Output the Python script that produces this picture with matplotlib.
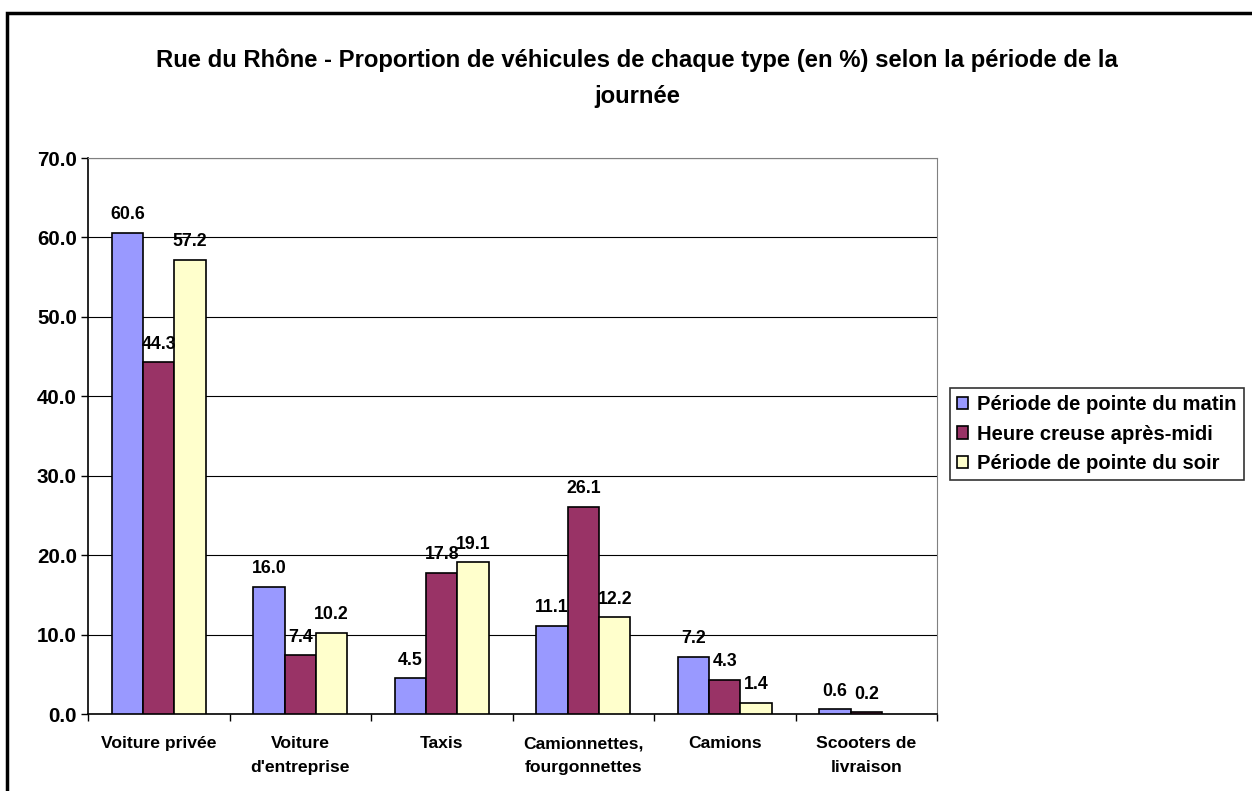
import numpy as np
import matplotlib
matplotlib.use('Agg')
import matplotlib.pyplot as plt
from matplotlib.patches import Rectangle

plt.rcParams['font.family'] = ['Liberation Sans', 'DejaVu Sans']
plt.rcParams['font.weight'] = 'bold'

categories = ['Voiture privée', "Voiture\nd'entreprise", 'Taxis',
              'Camionnettes,\nfourgonnettes', 'Camions', 'Scooters de\nlivraison']
series = ['Période de pointe du matin', 'Heure creuse après-midi', 'Période de pointe du soir']
matin = [60.6, 16.0, 4.5, 11.1, 7.2, 0.6]
creuse = [44.3, 7.4, 17.8, 26.1, 4.3, 0.2]
soir = [57.2, 10.2, 19.1, 12.2, 1.4, np.nan]
colors = ['#9999FF', '#993366', '#FFFFCC']

W, H = 1252, 791
fig = plt.figure(figsize=(W / 100, H / 100), dpi=100)
ax = fig.add_axes([88 / W, 1 - 714 / H, (937 - 88) / W, (714 - 158) / H])

x = np.arange(len(categories))
bw = 1 / 4.5  # excel gap width 150%
handles = []
for i, (vals, c) in enumerate(zip([matin, creuse, soir], colors)):
    pos = x + (i - 1) * bw
    b = ax.bar(pos, vals, bw, color=c, edgecolor='black', linewidth=1.2, zorder=3, label=series[i])
    handles.append(b)
    for p, v in zip(pos, vals):
        if not np.isnan(v):
            ax.text(p, v + 1.2, '%.1f' % v, ha='center', va='bottom', fontsize=12.8, fontweight='bold', zorder=4)

ax.set_xlim(-0.5, len(categories) - 0.5)
ax.set_ylim(0, 70)
ax.set_yticks(np.arange(0, 71, 10))
ax.set_yticklabels(['%.1f' % t for t in np.arange(0, 71, 10)], fontsize=14.8, fontweight='bold')
ax.yaxis.grid(True, color='black', linewidth=0.8, zorder=0)
ax.set_axisbelow(True)
ax.set_xticks(np.arange(-0.5, len(categories), 1))
ax.set_xticklabels([])
ax.set_xticks(x, minor=True)
ax.set_xticklabels(categories, minor=True, fontsize=12.6, fontweight='bold', linespacing=1.72)
ax.tick_params(axis='x', which='minor', length=0, pad=16)
ax.tick_params(axis='x', which='major', length=5, direction='out', width=1)
ax.tick_params(axis='y', length=5, direction='out', width=1, pad=3)
ax.spines['top'].set_color('#808080')
ax.spines['right'].set_color('#808080')
for s in ['left', 'bottom']:
    ax.spines[s].set_linewidth(1.2)

fig.text(637 / W, 1 - 60 / H, 'Rue du Rhône - Proportion de véhicules de chaque type (en %) selon la période de la',
         ha='center', va='center', fontsize=17.2, fontweight='bold')
fig.text(637 / W, 1 - 96 / H, 'journée', ha='center', va='center', fontsize=17.2, fontweight='bold')

leg = fig.legend(handles=handles, labels=series, loc='upper left',
                 bbox_to_anchor=(950 / W, 1 - 388 / H), fontsize=14.6, frameon=True,
                 fancybox=False, edgecolor='black', handlelength=0.55, handleheight=0.55,
                 handletextpad=0.45, borderpad=0.35, labelspacing=0.52, borderaxespad=0)
leg.get_frame().set_linewidth(1.2)

fig.patches.append(Rectangle((7 / W, -0.1), 1.2, 1.1 - 13 / H, transform=fig.transFigure,
                             fill=False, edgecolor='black', linewidth=2.5))

fig.savefig('out.png', dpi=100)
